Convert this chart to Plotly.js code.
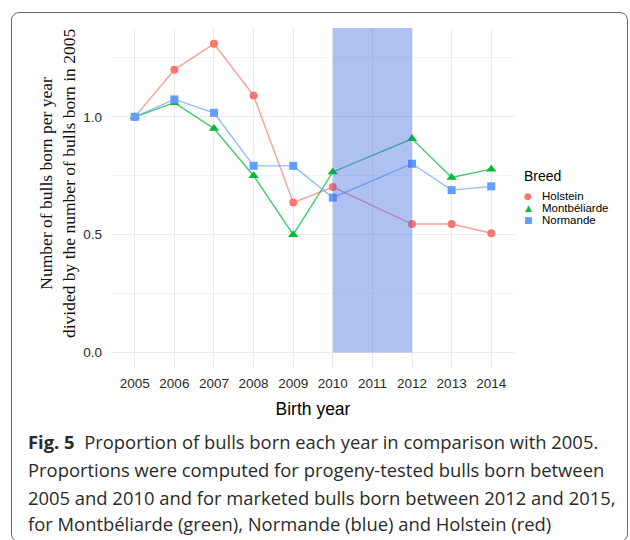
<!DOCTYPE html>
<html>
<head>
<meta charset="utf-8">
<script src="https://cdn.plot.ly/plotly-3.0.1.min.js"></script>
<style>
  html, body { margin:0; padding:0; background:#fff; }
  #wrap { position:relative; width:630px; height:540px; overflow:hidden; }
  #chart { position:absolute; left:0; top:0; width:630px; height:540px; }
  #frame { position:absolute; left:11px; top:12px; width:617px; height:530px;
           border:1px solid #6a6a6a; border-radius:8px; box-sizing:border-box; pointer-events:none; }
</style>
</head>
<body>
<div id="wrap">
  <div id="chart"></div>
  <div id="frame"></div>
</div>
<script>
// ---- data ----
const years = [2005, 2006, 2007, 2008, 2009, 2010, 2011, 2012, 2013, 2014];
const yearLabels = ["2005","2006","2007","2008","2009","2010","2011","2012","2013","2014"];
const holstein     = [1.00, 1.20, 1.31, 1.09, 0.636, 0.702, null, 0.545, 0.545, 0.506];
const montbeliarde = [1.00, 1.06, 0.95, 0.75, 0.50, 0.766, null, 0.907, 0.743, 0.778];
const normande     = [1.00, 1.074, 1.017, 0.792, 0.792, 0.657, null, 0.801, 0.689, 0.705];
const breeds = ["Holstein", "Montbéliarde", "Normande"];
const shadeStart = 2010, shadeEnd = 2012;
const captionLines = [
  "<b>Fig. 5</b>  Proportion of bulls born each year in comparison with 2005.",
  "Proportions were computed for progeny-tested bulls born between",
  "2005 and 2010 and for marketed bulls born between 2012 and 2015,",
  "for Montbéliarde (green), Normande (blue) and Holstein (red)"
];

const colors = ["#F8766D", "#00BA38", "#619CFF"];
const lineColors = ["rgba(248,118,109,0.7)", "rgba(0,186,56,0.75)", "rgba(97,156,255,0.7)"];
const symbols = ["circle", "triangle-up", "square"];
const series = [holstein, montbeliarde, normande];

const traces = series.map((vals, i) => ({
  type: "scatter", mode: "lines+markers", name: breeds[i],
  x: years, y: vals, connectgaps: true,
  line: { color: lineColors[i], width: 1.4 },
  marker: { color: colors[i], symbol: symbols[i], size: i === 1 ? 9 : 8 },
  showlegend: false, cliponaxis: false
}));

// Layout helpers (pixel -> paper)
const L = 111, R = 115, T = 28, B = 172, W = 630, H = 540;
const pw = W - L - R, ph = H - T - B;
const px = x => (x - L) / pw;
const py = y => (H - B - y) / ph;

const annotations = [];
// Y title
annotations.push({
  xref: "paper", yref: "paper", x: px(57), y: py(184), xanchor: "center", yanchor: "middle",
  textangle: -90, showarrow: false,
  text: "Number of bulls born per year<br>divided by the number of bulls born in 2005",
  font: { family: "Liberation Serif, serif", size: 17.5, color: "#111" }
});
// Legend
annotations.push({ xref:"paper", yref:"paper", x:px(522), y:py(176), xanchor:"left", yanchor:"middle",
  showarrow:false, text:"Breed", font:{ family:"Liberation Sans, Arial, sans-serif", size:14, color:"#000" }});
const legSym = ["●", "▲", "■"];
const legY = [196, 208, 220];
breeds.forEach((b, i) => {
  annotations.push({ xref:"paper", yref:"paper", x:px(528), y:py(legY[i]), xanchor:"center", yanchor:"middle",
    showarrow:false, text:legSym[i], font:{ family:"DejaVu Sans, sans-serif", size:9, color:colors[i] }});
  annotations.push({ xref:"paper", yref:"paper", x:px(540), y:py(legY[i]), xanchor:"left", yanchor:"middle",
    showarrow:false, text:b, font:{ family:"Liberation Sans, Arial, sans-serif", size:11.5, color:"#000" }});
});
// Caption
const capY = [441.5, 469.5, 497, 523.5];
captionLines.forEach((t, i) => {
  annotations.push({ xref:"paper", yref:"paper", x:px(26), y:py(capY[i]), xanchor:"left", yanchor:"middle",
    showarrow:false, text:t, font:{ family:"Open Sans, Noto Sans, sans-serif", size:18.4, color:"#2a2a2a" }});
});

const layout = {
  width: W, height: H,
  margin: { l: L, r: R, t: T, b: B },
  paper_bgcolor: "rgba(0,0,0,0)", plot_bgcolor: "#fff",
  showlegend: false,
  font: { family: "Liberation Sans, Arial, sans-serif", color: "#444" },
  xaxis: {
    range: [2004.4, 2014.6], tickvals: years, ticktext: yearLabels,
    showgrid: true, gridcolor: "#ebebeb", gridwidth: 1, zeroline: false, showline: false,
    ticks: "", ticklabelstandoff: 5,
    tickfont: { size: 13.5, color: "#2a2a2a" },
    title: { text: "Birth year", standoff: 13, font: { size: 17.5, color: "#000" } }
  },
  yaxis: {
    range: [-0.066, 1.377], tickvals: [0, 0.5, 1.0], ticktext: ["0.0", "0.5", "1.0"],
    showgrid: true, gridcolor: "#ebebeb", gridwidth: 1, zeroline: false, showline: false,
    ticks: "", ticklabelstandoff: 8,
    tickfont: { size: 13.5, color: "#2a2a2a" },
    minor: { tickvals: [0.25, 0.75, 1.25], showgrid: true, gridcolor: "#f4f4f4", gridwidth: 1 }
  },
  shapes: [{
    type: "rect", xref: "x", yref: "y", x0: shadeStart, x1: shadeEnd, y0: 0, y1: 1.377,
    fillcolor: "#4169E1", opacity: 0.42, line: { width: 0 }, layer: "above"
  }],
  annotations: annotations
};

Plotly.newPlot("chart", traces, layout, { staticPlot: true, displayModeBar: false });
</script>
</body>
</html>
